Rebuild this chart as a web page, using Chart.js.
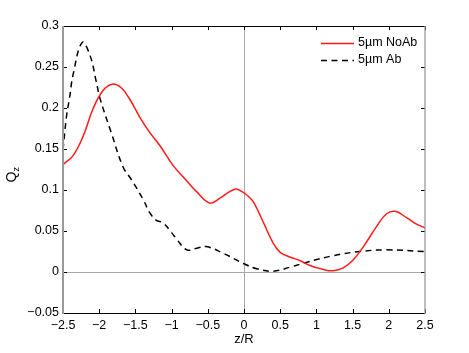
<!DOCTYPE html>
<html>
<head>
<meta charset="utf-8">
<script src="https://cdn.jsdelivr.net/npm/chart.js@4"></script>
<style>
html,body{margin:0;padding:0;background:#fff;}
#c{display:block;}
</style>
</head>
<body>
<canvas id="c" width="469" height="353"></canvas>
<script>
// ---- data ----
const seriesNames = ['5\u00b5m NoAb', '5\u00b5m Ab'];
const zNoAb = [-2.5, -2.36, -2.22, -2.085, -1.95, -1.82, -1.70, -1.58, -1.44, -1.30, -1.16, -0.98, -0.79, -0.655, -0.47, -0.333, -0.125, -0.01, 0.07, 0.14, 0.27, 0.405, 0.5, 0.64, 0.77, 0.91, 1.1, 1.23, 1.37, 1.51, 1.65, 1.835, 1.97, 2.09, 2.25, 2.39, 2.5];
const qNoAb = [0.131, 0.142, 0.166, 0.199, 0.221, 0.229, 0.225, 0.211, 0.189, 0.170, 0.154, 0.130, 0.111, 0.098, 0.084, 0.090, 0.101, 0.097, 0.0915, 0.084, 0.060, 0.035, 0.024, 0.018, 0.014, 0.008, 0.003, 0.0015, 0.005, 0.015, 0.031, 0.056, 0.071, 0.074, 0.066, 0.058, 0.054];
const zAb = [-2.5, -2.45, -2.41, -2.36, -2.235, -2.13, -2.04, -1.99, -1.83, -1.67, -1.554, -1.39, -1.30, -1.21, -1.12, -1.0, -0.93, -0.79, -0.65, -0.52, -0.29, 0.0, 0.175, 0.4, 0.64, 0.87, 1.235, 1.6, 1.97, 2.5];
const qAb = [0.149, 0.191, 0.212, 0.241, 0.280, 0.265, 0.232, 0.212, 0.169, 0.128, 0.1125, 0.088, 0.072, 0.063, 0.060, 0.048, 0.040, 0.027, 0.029, 0.031, 0.023, 0.010, 0.004, 0.001, 0.006, 0.012, 0.020, 0.025, 0.027, 0.025];
const xTicks = [-2.5, -2, -1.5, -1, -0.5, 0, 0.5, 1, 1.5, 2, 2.5];
const yTicks = [-0.05, 0, 0.05, 0.1, 0.15, 0.2, 0.25, 0.3];
const xTitle = 'z/R';
const yTitleMain = 'Q';
const yTitleSub = 'z';

const FONT = '"Liberation Sans", Arial, sans-serif';
const fmt = v => { const s = Math.round(v * 100) / 100; return s < 0 ? '\u2212' + String(-s) : String(s); };
const toPts = (xs, ys) => xs.map((x, i) => ({x: x, y: ys[i]}));

const framePlugin = {
  id: 'frame',
  beforeDatasetsDraw(chart) {
    const {ctx, chartArea: a, scales: {x, y}} = chart;
    ctx.save();
    ctx.strokeStyle = '#a8a8a8';
    ctx.lineWidth = 1;
    const x0 = Math.round(x.getPixelForValue(0)) + 0.5;
    const y0 = Math.round(y.getPixelForValue(0)) + 0.5;
    ctx.beginPath();
    ctx.moveTo(x0, a.top); ctx.lineTo(x0, a.bottom);
    ctx.moveTo(a.left, y0); ctx.lineTo(a.right, y0);
    ctx.stroke();
    ctx.restore();
  },
  afterDatasetsDraw(chart) {
    const {ctx, chartArea: a, scales: {x, y}} = chart;
    ctx.save();
    // ticks (inward)
    ctx.strokeStyle = '#000';
    ctx.lineWidth = 1;
    ctx.beginPath();
    const tl = 4;
    xTicks.forEach(v => {
      const px = Math.round(x.getPixelForValue(v)) + 0.5;
      ctx.moveTo(px, a.top); ctx.lineTo(px, a.top + tl);
      ctx.moveTo(px, a.bottom); ctx.lineTo(px, a.bottom - tl);
    });
    yTicks.forEach(v => {
      const py = Math.round(y.getPixelForValue(v)) + 0.5;
      ctx.moveTo(a.left, py); ctx.lineTo(a.left + tl, py);
      ctx.moveTo(a.right, py); ctx.lineTo(a.right - tl, py);
    });
    ctx.stroke();
    // box
    ctx.strokeStyle = '#000';
    ctx.lineWidth = 1.2;
    ctx.beginPath();
    ctx.moveTo(a.left, a.top + 0.5); ctx.lineTo(a.right, a.top + 0.5);
    ctx.moveTo(a.left, a.bottom + 0.5); ctx.lineTo(a.right, a.bottom + 0.5);
    ctx.stroke();
    ctx.strokeStyle = '#999';
    ctx.lineWidth = 2;
    ctx.beginPath();
    ctx.moveTo(a.left, a.top); ctx.lineTo(a.left, a.bottom + 1);
    ctx.stroke();
    ctx.lineWidth = 1.3;
    ctx.beginPath();
    ctx.moveTo(a.right, a.top); ctx.lineTo(a.right, a.bottom + 1);
    ctx.stroke();

    // legend
    ctx.font = '12.5px ' + FONT;
    ctx.textBaseline = 'middle';
    ctx.textAlign = 'left';
    chart.data.datasets.forEach((ds, i) => {
      const ly = 43 + i * 17;
      ctx.strokeStyle = ds.borderColor;
      ctx.lineWidth = ds.borderWidth;
      ctx.setLineDash(ds.borderDash || []);
      ctx.beginPath();
      ctx.moveTo(321, ly + 0.5); ctx.lineTo(354, ly + 0.5);
      ctx.stroke();
      ctx.setLineDash([]);
      ctx.fillStyle = '#000';
      ctx.fillText(ds.label, 358, ly);
    });

    // axis titles
    ctx.fillStyle = '#000';
    ctx.font = '13px ' + FONT;
    ctx.textAlign = 'center';
    ctx.textBaseline = 'middle';
    ctx.fillText(xTitle, (a.left + a.right) / 2, 339);
    ctx.save();
    ctx.translate(16, 174);
    ctx.rotate(-Math.PI / 2);
    ctx.textAlign = 'left';
    ctx.textBaseline = 'alphabetic';
    ctx.font = '14px ' + FONT;
    const w = ctx.measureText(yTitleMain).width;
    ctx.fillText(yTitleMain, -w / 2 - 3, 0);
    ctx.font = '9px ' + FONT;
    ctx.fillText(yTitleSub, w / 2 - 3, 3);
    ctx.restore();
    ctx.restore();
  }
};

new Chart(document.getElementById('c'), {
  type: 'line',
  data: {
    datasets: [
      {label: seriesNames[0], data: toPts(zNoAb, qNoAb), borderColor: '#ff1a1a', borderWidth: 1.5, pointRadius: 0, tension: 0.4, fill: false},
      {label: seriesNames[1], data: toPts(zAb, qAb), borderColor: '#000', borderWidth: 1.5, borderDash: [6, 4.5], pointRadius: 0, tension: 0.4, fill: false}
    ]
  },
  options: {
    responsive: false,
    devicePixelRatio: 1,
    animation: false,
    layout: {padding: {left: 0, right: 44, top: 26, bottom: 0}},
    plugins: {legend: {display: false}, tooltip: {enabled: false}},
    scales: {
      x: {
        type: 'linear', min: -2.5, max: 2.5,
        afterFit: s => { s.height = 40; },
        afterBuildTicks: s => { s.ticks = xTicks.map(v => ({value: v})); },
        grid: {display: false, drawTicks: false},
        border: {display: false},
        ticks: {padding: 5, color: '#000', font: {family: FONT, size: 12.5}, callback: v => fmt(v), maxRotation: 0, autoSkip: false}
      },
      y: {
        type: 'linear', min: -0.05, max: 0.3,
        afterFit: s => { s.width = 63; },
        afterBuildTicks: s => { s.ticks = yTicks.map(v => ({value: v})); },
        grid: {display: false, drawTicks: false},
        border: {display: false},
        ticks: {padding: 4, color: '#000', font: {family: FONT, size: 12.5}, callback: v => fmt(v), autoSkip: false}
      }
    }
  },
  plugins: [framePlugin]
});
</script>
</body>
</html>
